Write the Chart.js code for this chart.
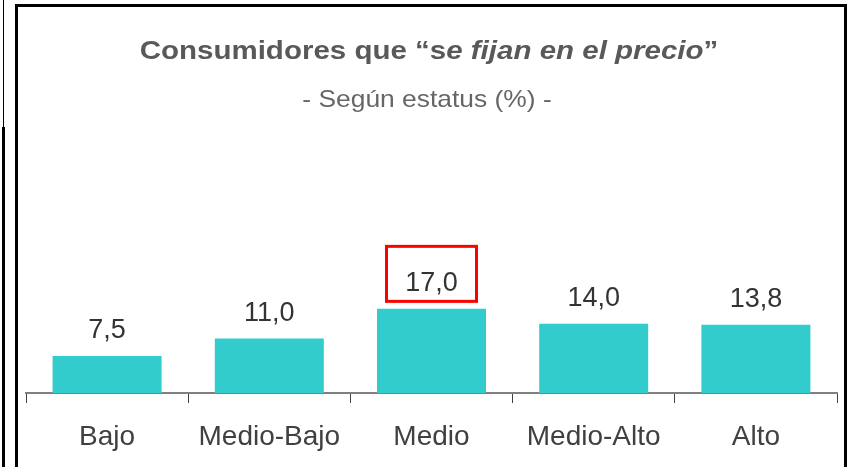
<!DOCTYPE html>
<html>
<head>
<meta charset="utf-8">
<script src="https://cdn.jsdelivr.net/npm/chart.js@4/dist/chart.umd.min.js"></script>
<style>
  html, body { margin: 0; padding: 0; background: #ffffff; }
  #wrap { position: relative; width: 854px; height: 467px; overflow: hidden; }
  canvas { position: absolute; left: 0; top: 0; }
  .frame { position: absolute; left: 15px; top: 4px; width: 826px; height: 480px;
           border: 3px solid #000; border-bottom: none; pointer-events: none; }
  .edgeTop { position: absolute; left: 3px; top: 0; width: 1px; height: 127px; background: #000; }
  .edgeBottom { position: absolute; left: 2px; top: 127px; width: 3px; height: 340px; background: #000; }
</style>
</head>
<body>
<div id="wrap">
  <canvas id="c" width="854" height="467"></canvas>
  <div class="frame"></div>
  <div class="edgeTop"></div>
  <div class="edgeBottom"></div>
</div>
<script>
// ---- data ----
const categories = ['Bajo', 'Medio-Bajo', 'Medio', 'Medio-Alto', 'Alto'];
const values = [7.5, 11.0, 17.0, 14.0, 13.8];
const highlighted = ['Medio'];
const titleParts = [
  { text: 'Consumidores que \u201Cs', italic: false },
  { text: 'e fijan en el precio', italic: true },
  { text: '\u201D', italic: false }
];
const subtitleText = '- Seg\u00FAn estatus (%) -';

// ---- styles ----
const FONT = "'Liberation Sans', Arial, sans-serif";
const BAR_COLOR = '#33CCCC';

function fmt(v) { return v.toFixed(1).replace('.', ','); }

const titlePlugin = {
  id: 'richTitle',
  afterDraw(chart) {
    const ctx = chart.ctx;
    const cx = chart.width / 2 + 2;
    ctx.save();
    ctx.fillStyle = '#595959';
    ctx.textBaseline = 'alphabetic';
    const sx = 1.18;
    let total = 0;
    const widths = titleParts.map(p => {
      ctx.font = (p.italic ? 'italic ' : '') + 'bold 25px ' + FONT;
      const w = ctx.measureText(p.text).width;
      total += w;
      return w;
    });
    ctx.translate(cx, 59);
    ctx.scale(sx, 1);
    let x = -total / 2;
    ctx.textAlign = 'left';
    titleParts.forEach((p, i) => {
      ctx.font = (p.italic ? 'italic ' : '') + 'bold 25px ' + FONT;
      ctx.fillText(p.text, x, 0);
      x += widths[i];
    });
    ctx.restore();
    ctx.save();
    ctx.fillStyle = '#666666';
    ctx.textBaseline = 'alphabetic';
    ctx.textAlign = 'center';
    ctx.font = '24px ' + FONT;
    ctx.translate(chart.width / 2, 107);
    ctx.scale(1.1, 1);
    ctx.fillText(subtitleText, 0, 0);
    ctx.restore();
  }
};

const labelPlugin = {
  id: 'valueLabels',
  afterDatasetsDraw(chart) {
    const ctx = chart.ctx;
    const meta = chart.getDatasetMeta(0);
    ctx.save();
    ctx.font = '27px ' + FONT;
    ctx.fillStyle = '#333333';
    ctx.textAlign = 'center';
    ctx.textBaseline = 'alphabetic';
    meta.data.forEach((el, i) => {
      ctx.fillText(fmt(values[i]), el.x, el.y - 17.5);
      if (highlighted.includes(categories[i])) {
        ctx.strokeStyle = '#FF0000';
        ctx.lineWidth = 3;
        ctx.strokeRect(el.x - 45, el.y - 62.5, 90, 55);
      }
    });
    ctx.restore();
  }
};

new Chart(document.getElementById('c'), {
  type: 'bar',
  data: {
    labels: categories,
    datasets: [{
      data: values,
      backgroundColor: BAR_COLOR,
      borderWidth: 0,
      categoryPercentage: 1.0,
      barPercentage: 0.672
    }]
  },
  options: {
    responsive: false,
    devicePixelRatio: 1,
    animation: false,
    layout: { padding: { left: 26, right: 17, top: 294, bottom: 0 } },
    plugins: {
      legend: { display: false },
      title: { display: false },
      tooltip: { enabled: false }
    },
    scales: {
      x: {
        afterFit(scale) { scale.height = 74; },
        grid: {
          display: true,
          drawOnChartArea: false,
          drawTicks: true,
          tickLength: 10,
          color: '#404040',
          lineWidth: 1,
          offset: true
        },
        border: { display: true, color: '#808080', width: 2 },
        ticks: {
          color: '#404040',
          font: { family: FONT, size: 28, lineHeight: 0.743 },
          padding: 24
        }
      },
      y: { display: false, min: 0, max: 20 }
    }
  },
  plugins: [titlePlugin, labelPlugin]
});
</script>
</body>
</html>
